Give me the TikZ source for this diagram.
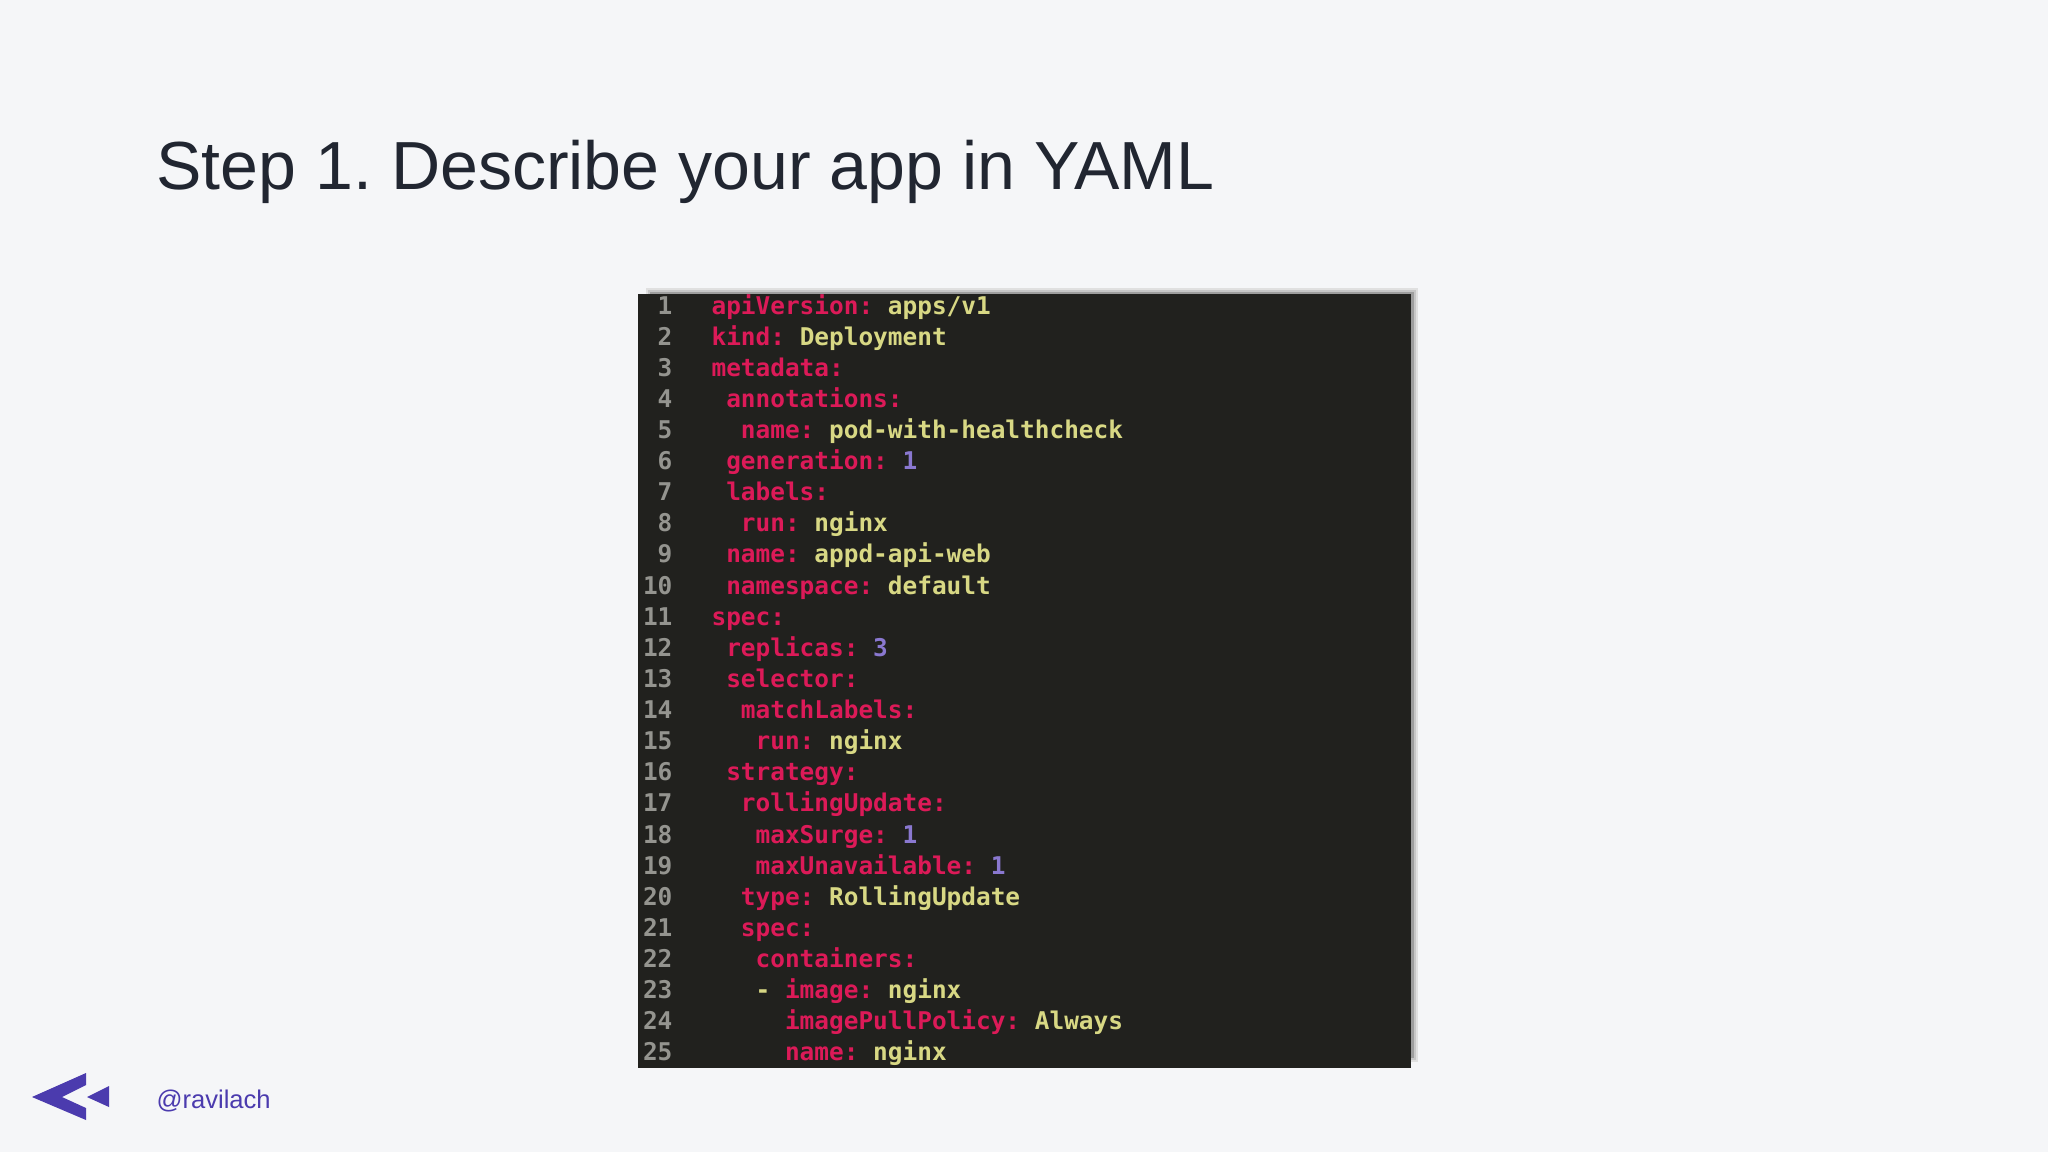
\documentclass[tikz,border=0pt]{standalone}
\usepackage{fontspec}
\setmainfont{Liberation Sans}
\setmonofont{DejaVu Sans Mono}
\usepackage{tikz}
\frenchspacing

\definecolor{slidebg}{HTML}{F5F6F8}
\definecolor{titleink}{HTML}{212631}
\definecolor{brand}{HTML}{4B3BAE}
\definecolor{editorbg}{HTML}{21211E}
\definecolor{keyink}{HTML}{DC1A58}
\definecolor{valink}{HTML}{D8D884}
\definecolor{numink}{HTML}{8A78D0}
\definecolor{lineink}{HTML}{94948F}

\tikzset{
    code/.style={anchor=base west, inner sep=0pt, font=\fontsize{8.68pt}{10pt}\ttfamily\bfseries},
    lineno/.style={anchor=base east, inner sep=0pt, text=lineink, font=\fontsize{8.68pt}{10pt}\ttfamily\bfseries}
}
\newcommand{\yk}[1]{\textcolor{keyink}{#1}}
\newcommand{\yv}[1]{\textcolor{valink}{#1}}
\newcommand{\yn}[1]{\textcolor{numink}{#1}}

\begin{document}
\begin{tikzpicture}[x=0.0125cm, y=-0.0125cm]
    \fill[slidebg] (0, 0) rectangle (2048, 1152);
    \useasboundingbox (0, 0) rectangle (2048, 1152);

    \node[anchor=base west, inner sep=0pt, text=titleink, font=\fontsize{24.2pt}{28pt}\selectfont] (title) at (156, 189) {Step 1. Describe your app in YAML};

    % shadow of the screenshot
    \fill[black!12] (646, 288) rectangle (1418, 1062);
    \fill[black!22] (648, 290) rectangle (1416, 1060);
    \fill[black!38] (650, 292) rectangle (1414, 1058);
    \fill[editorbg] (638, 294) rectangle (1411, 1068);

    \foreach \n/\txt in {
        1/{\yk{apiVersion:} \yv{apps/v1}},
        2/{\yk{kind:} \yv{Deployment}},
        3/{\yk{metadata:}},
        4/{\ \yk{annotations:}},
        5/{\ \ \yk{name:} \yv{pod-with-healthcheck}},
        6/{\ \yk{generation:} \yn{1}},
        7/{\ \yk{labels:}},
        8/{\ \ \yk{run:} \yv{nginx}},
        9/{\ \yk{name:} \yv{appd-api-web}},
        10/{\ \yk{namespace:} \yv{default}},
        11/{\yk{spec:}},
        12/{\ \yk{replicas:} \yn{3}},
        13/{\ \yk{selector:}},
        14/{\ \ \yk{matchLabels:}},
        15/{\ \ \ \yk{run:} \yv{nginx}},
        16/{\ \yk{strategy:}},
        17/{\ \ \yk{rollingUpdate:}},
        18/{\ \ \ \yk{maxSurge:} \yn{1}},
        19/{\ \ \ \yk{maxUnavailable:} \yn{1}},
        20/{\ \ \yk{type:} \yv{RollingUpdate}},
        21/{\ \ \yk{spec:}},
        22/{\ \ \ \yk{containers:}},
        23/{\ \ \ \yv{-} \yk{image:} \yv{nginx}},
        24/{\ \ \ \ \ \yk{imagePullPolicy:} \yv{Always}},
        25/{\ \ \ \ \ \yk{name:} \yv{nginx}}
    } {
        \node[lineno] (num\n) at (673, 314 + 31.12*\n - 31.12) {\n};
        \node[code] (line\n) at (711, 314 + 31.12*\n - 31.12) {\txt};
    }

    % logo
    \fill[brand] (32, 1097) -- (86, 1073) -- (86, 1085) -- (62, 1097) -- (86, 1108) -- (86, 1120) -- cycle;
    \fill[brand] (87, 1097) -- (109, 1086) -- (109, 1107) -- cycle;

    \node[anchor=base west, inner sep=0pt, text=brand, font=\fontsize{9.1pt}{10pt}\selectfont] (handle) at (156, 1108) {@ravilach};
\end{tikzpicture}
\end{document}
